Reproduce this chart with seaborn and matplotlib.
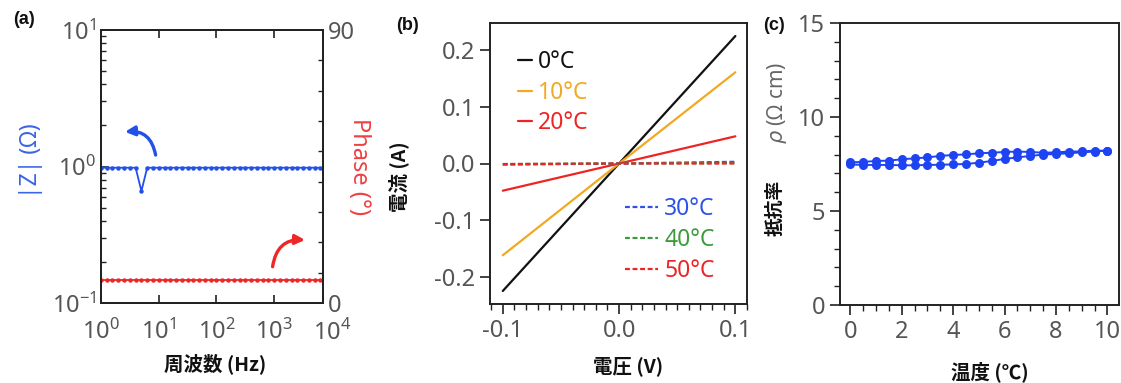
import numpy as np
import pandas as pd
import matplotlib
matplotlib.use("Agg")
import matplotlib.pyplot as plt
import matplotlib.ticker as mticker
import matplotlib.transforms as mtrans
import seaborn as sns

# ---------------- data ----------------
# (a) impedance spectrum
freq_hz = [1.0, 1.26, 1.58, 2.0, 2.51, 3.16, 3.98, 5.01, 6.31, 7.94,
           10, 12.6, 15.8, 20, 25.1, 31.6, 39.8, 50.1, 63.1, 79.4,
           100, 126, 158, 200, 251, 316, 398, 501, 631, 794,
           1000, 1260, 1580, 2000, 2510, 3160, 3980, 5010, 6310]
z_abs = [0.98, 0.98, 0.98, 0.98, 0.98, 0.98, 0.98, 0.66, 0.98, 0.98,
         0.98, 0.98, 0.98, 0.98, 0.98, 0.98, 0.98, 0.98, 0.98, 0.98,
         0.98, 0.98, 0.98, 0.98, 0.98, 0.98, 0.98, 0.98, 0.98, 0.98,
         0.98, 0.98, 0.98, 0.98, 0.98, 0.98, 0.98, 0.98, 0.98]
phase_deg = [7.6] * 39

# (b) I-V curves
voltage = [-0.1, 0.0, 0.1]
iv_labels = ["0°C", "10°C", "20°C", "30°C", "40°C", "50°C"]
i_0C = [-0.225, 0.0, 0.225]
i_10C = [-0.162, 0.0, 0.161]
i_20C = [-0.048, 0.0, 0.048]
i_30C = [-0.002, 0.0, 0.003]
i_40C = [-0.001, 0.0, 0.001]
i_50C = [-0.001, 0.0, 0.000]

# (c) resistivity vs temperature (heating then cooling)
temp_up = [0, 0.5, 1, 1.5, 2, 2.5, 3, 3.5, 4, 4.5, 5, 5.5, 6, 6.5, 7, 7.5, 8, 8.5, 9, 9.5, 10]
rho_up = [7.59, 7.61, 7.66, 7.68, 7.75, 7.80, 7.85, 7.93, 7.98, 8.01, 8.07,
          8.10, 8.14, 8.16, 8.14, 8.10, 8.12, 8.16, 8.17, 8.21, 8.21]
temp_down = [10, 9.5, 9, 8.5, 8, 7.5, 7, 6.5, 6, 5.5, 5, 4.5, 4, 3.5, 3, 2.5, 2, 1.5, 1, 0.5, 0]
rho_down = [8.21, 8.16, 8.12, 8.07, 8.03, 8.00, 7.93, 7.85, 7.77, 7.66, 7.57,
            7.50, 7.48, 7.46, 7.45, 7.43, 7.43, 7.45, 7.45, 7.45, 7.48]

# ---------------- style ----------------
sns.set_theme(style="ticks")
plt.rcParams["font.family"] = ["Noto Sans", "DejaVu Sans"]
plt.rcParams["axes.unicode_minus"] = False
plt.rcParams["mathtext.fontset"] = "custom"
plt.rcParams["mathtext.rm"] = "Noto Sans"
plt.rcParams["mathtext.it"] = "DejaVu Sans:italic"
plt.rcParams["mathtext.bf"] = "Noto Sans:bold"

CJK = ["Noto Sans CJK JP", "DejaVu Sans"]
BOLDF = ["Liberation Sans", "DejaVu Sans"]
TICK_C = "#555555"
TICK_FS = 17

W, H = 1121, 383
fig = plt.figure(figsize=(W / 100, H / 100), dpi=100)


def ax_px(l, r, t, b):
    return fig.add_axes([l / W, 1 - b / H, (r - l) / W, (b - t) / H])


def ftxt(x, y, s, **kw):
    fig.text(x / W, 1 - y / H, s, ha="center", va="center", **kw)


def style_spines(ax):
    for s in ax.spines.values():
        s.set_color("#222222")
        s.set_linewidth(1.4)
        s.set_visible(True)


# ---------------- (a) ----------------
BLUE_A = "#2350e6"
RED_A = "#ee2626"
axa = ax_px(101, 323, 30, 303)
dfa = pd.DataFrame({"f": freq_hz, "z": z_abs, "p": phase_deg})
sns.lineplot(data=dfa, x="f", y="z", ax=axa, color=BLUE_A, lw=1.3,
             marker="o", markersize=3.2, markeredgewidth=0, sort=False, estimator=None)
axa.set_xscale("log")
axa.set_yscale("log")
axa.set_xticks([1, 10, 100, 1000])
axa.set_xlim(1, 7000)
axa.set_ylim(0.1, 10)
axa.set_yticks([0.1, 1, 10])
axa.xaxis.set_minor_locator(mticker.LogLocator(base=10, subs=np.arange(2, 10)))
axa.yaxis.set_minor_locator(mticker.LogLocator(base=10, subs=np.arange(2, 10)))
axa.tick_params(which="both", direction="in", top=True, right=False,
                colors="#222222", labelcolor=TICK_C, labelsize=TICK_FS)
axa.tick_params(which="major", length=6, width=1.2)
axa.tick_params(which="minor", length=3.5, width=1.0)
axa.tick_params(axis="x", pad=12)
axa.set_xlabel("")
axa.set_ylabel("")
style_spines(axa)
# the 10^4 decade label sits just past the right end of the axis
axa.text(10000, -0.061, r"$10^{4}$",
         transform=mtrans.blended_transform_factory(axa.transData, axa.transAxes),
         ha="center", va="top", fontsize=TICK_FS, color=TICK_C, clip_on=False)

axa2 = axa.twinx()
sns.lineplot(data=dfa, x="f", y="p", ax=axa2, color=RED_A, lw=1.3,
             marker="o", markersize=3.2, markeredgewidth=0, sort=False, estimator=None)
axa2.set_ylim(0, 90)
axa2.set_yticks([0, 90])
axa2.yaxis.set_minor_locator(mticker.MultipleLocator(10))
axa2.tick_params(which="both", direction="in", colors="#222222",
                 labelcolor=TICK_C, labelsize=TICK_FS)
axa2.tick_params(which="major", length=6, width=1.2)
axa2.tick_params(which="minor", length=3.5, width=1.0)
axa2.set_ylabel("")
style_spines(axa2)

axa.annotate("", xy=(0.108, 0.627), xytext=(0.246, 0.542), xycoords="axes fraction",
             arrowprops=dict(arrowstyle="-|>", color=BLUE_A, lw=2.4, mutation_scale=14,
                             connectionstyle="arc3,rad=0.45", shrinkA=0, shrinkB=0))
axa.annotate("", xy=(0.919, 0.231), xytext=(0.773, 0.133), xycoords="axes fraction",
             arrowprops=dict(arrowstyle="-|>", color=RED_A, lw=2.4, mutation_scale=14,
                             connectionstyle="arc3,rad=-0.45", shrinkA=0, shrinkB=0))

ftxt(31, 161, "|Z| (Ω)", color="#3a63e8", fontsize=16.5, rotation=90)
ftxt(359, 167, "Phase (°)", color="#f04040", fontsize=17, rotation=270)
ftxt(215, 364, "周波数 (Hz)", family=CJK, fontweight="bold", fontsize=14, color="#111111")
ftxt(24, 20, "(a)", family=BOLDF, fontweight="bold", fontsize=13, color="#111111")

# ---------------- (b) ----------------
axb = ax_px(490, 747, 23, 304)
iv_series = [i_0C, i_10C, i_20C, i_30C, i_40C, i_50C]
iv_colors = ["#111111", "#f2a922", "#ee2424", "#2f52e6", "#3f9a3f", "#ee2424"]
iv_dashed = [False, False, False, True, True, True]
rows = []
for lab, ser in zip(iv_labels, iv_series):
    for v, i in zip(voltage, ser):
        rows.append({"V": v, "I": i, "T": lab})
dfb = pd.DataFrame(rows)
handles = {}
for lab, col, dsh in zip(iv_labels, iv_colors, iv_dashed):
    sub = dfb[dfb["T"] == lab]
    sns.lineplot(data=sub, x="V", y="I", ax=axb, color=col, lw=1.6,
                 linestyle=(0, (2.2, 1.2)) if dsh else "-", label=lab, legend=False)
    handles[lab] = axb.lines[-1]
axb.set_xlim(-0.111, 0.110)
axb.set_ylim(-0.248, 0.248)
axb.set_xticks([-0.1, 0.0, 0.1])
axb.set_yticks([-0.2, -0.1, 0.0, 0.1, 0.2])
axb.xaxis.set_major_formatter(mticker.FormatStrFormatter("%.1f"))
axb.yaxis.set_major_formatter(mticker.FormatStrFormatter("%.1f"))
axb.xaxis.set_minor_locator(mticker.MultipleLocator(0.01))
axb.tick_params(which="both", direction="out", colors="#222222",
                labelcolor=TICK_C, labelsize=TICK_FS)
axb.tick_params(which="major", length=7, width=1.2)
axb.tick_params(which="minor", length=4, width=1.0)
axb.tick_params(axis="y", which="minor", left=False)
axb.set_xlabel("")
axb.set_ylabel("")
style_spines(axb)

leg1 = axb.legend([handles[l] for l in iv_labels[:3]], iv_labels[:3],
                  loc="upper left", bbox_to_anchor=(0.109, 0.905), frameon=False,
                  fontsize=16.5, handlelength=0.6, handletextpad=0.25, labelspacing=0.3,
                  labelcolor="linecolor", borderaxespad=0, borderpad=0)
axb.add_artist(leg1)
axb.legend([handles[l] for l in iv_labels[3:]], iv_labels[3:],
           loc="lower right", bbox_to_anchor=(0.875, 0.075), frameon=False,
           fontsize=16.5, handlelength=1.4, handletextpad=0.3, labelspacing=0.3,
           labelcolor="linecolor", borderaxespad=0, borderpad=0)

ftxt(628, 366, "電圧 (V)", family=CJK, fontweight="bold", fontsize=14, color="#111111")
ftxt(399, 177, "電流 (A)", family=CJK, fontweight="bold", fontsize=14, color="#111111", rotation=90)
ftxt(407, 25, "(b)", family=BOLDF, fontweight="bold", fontsize=13, color="#111111")

# ---------------- (c) ----------------
axc = ax_px(840, 1119, 23, 305)
BLUE_C = "#1e44f2"
dfc = pd.DataFrame({"T": temp_up + temp_down, "rho": rho_up + rho_down})
sns.lineplot(data=dfc, x="T", y="rho", ax=axc, color=BLUE_C, lw=1.4, sort=False,
             estimator=None, marker="o", markersize=6.5, markeredgewidth=0)
axc.set_xlim(-0.4, 10.45)
axc.set_ylim(0, 15)
axc.set_xticks([0, 2, 4, 6, 8, 10])
axc.set_yticks([0, 5, 10, 15])
axc.xaxis.set_minor_locator(mticker.MultipleLocator(0.5))
axc.yaxis.set_minor_locator(mticker.MultipleLocator(1))
axc.tick_params(which="both", direction="out", colors="#222222",
                labelcolor=TICK_C, labelsize=TICK_FS)
axc.tick_params(which="major", length=7, width=1.2)
axc.tick_params(which="minor", length=4, width=1.0)
axc.set_xlabel("")
axc.set_ylabel("")
style_spines(axc)

ftxt(990, 372, "温度 (℃)", family=CJK, fontweight="bold", fontsize=14, color="#111111")
ftxt(775, 208, "抵抗率", family=CJK, fontweight="bold", fontsize=13.5, color="#111111", rotation=90)
ftxt(777, 103, r"$\rho$ (Ω cm)", fontsize=15, color="#666666", rotation=90)
ftxt(774, 25, "(c)", family=BOLDF, fontweight="bold", fontsize=13, color="#111111")

fig.savefig("out.png", dpi=100)
